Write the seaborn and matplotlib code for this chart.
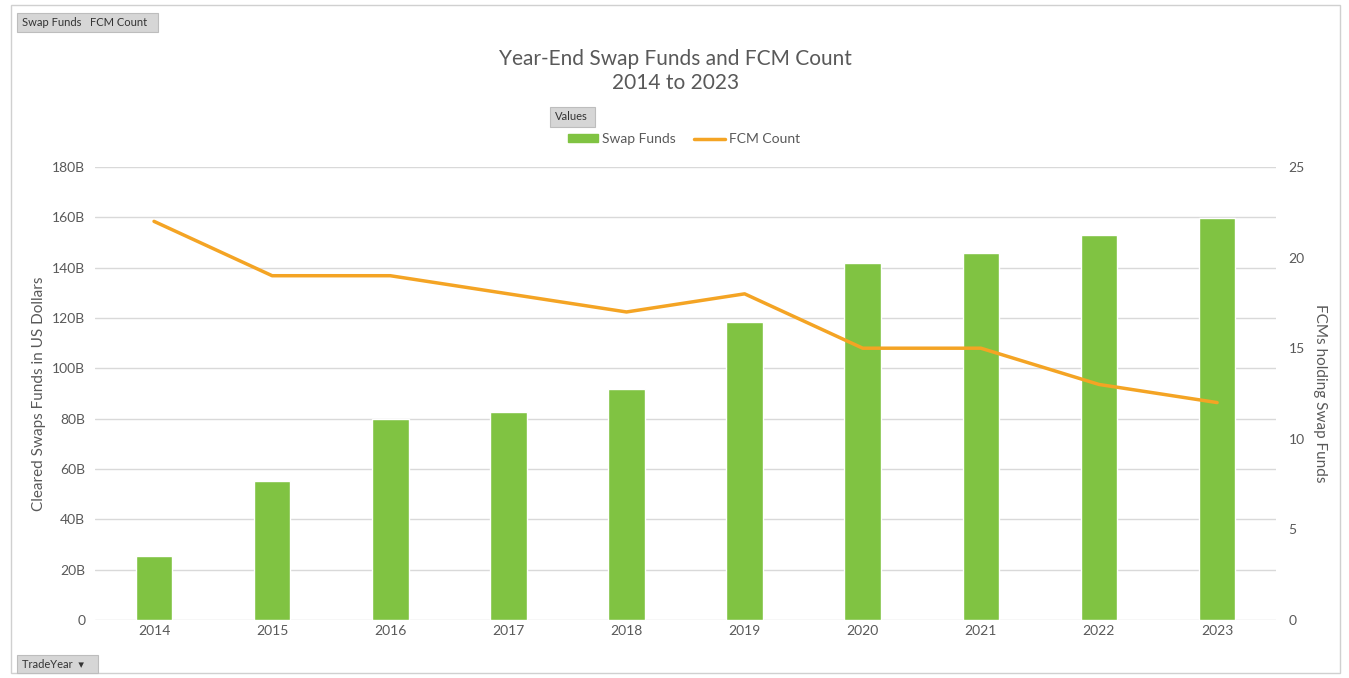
import pandas as pd
import seaborn as sns
import matplotlib.pyplot as plt
from matplotlib.patches import FancyBboxPatch, Rectangle

years = ['2014', '2015', '2016', '2017', '2018', '2019', '2020', '2021', '2022', '2023']
swap_funds_b = [25.4, 55.2, 79.9, 82.6, 91.8, 118.4, 141.8, 145.8, 153.0, 159.7]
fcm_count = [22, 19, 19, 18, 17, 18, 15, 15, 13, 12]

green = '#80C342'
orange = '#F4A424'
text_gray = '#595959'

sns.set_theme(style='white')
plt.rcParams['font.family'] = ['Lato', 'DejaVu Sans']

df = pd.DataFrame({'TradeYear': years, 'Swap Funds': swap_funds_b, 'FCM Count': fcm_count})

fig = plt.figure(figsize=(13.49, 6.78), dpi=100)
ax = fig.add_axes([0.0704, 0.0855, 0.8756, 0.6682])

sns.barplot(data=df, x='TradeYear', y='Swap Funds', color=green, width=0.31,
            saturation=1, ax=ax, zorder=2)
ax.set_ylim(0, 180)
ax.set_xlim(-0.5, 9.5)
ax.set_yticks(range(0, 181, 20))
ax.set_yticklabels(['0'] + [f'{v}B' for v in range(20, 181, 20)])
ax.yaxis.grid(True, color='#D9D9D9', linewidth=1, zorder=0)
ax.set_axisbelow(True)
ax.set_xlabel('')
ax.set_ylabel('Cleared Swaps Funds in US Dollars', color=text_gray, fontsize=11, labelpad=4)
ax.tick_params(axis='both', colors=text_gray, labelsize=10, length=0)
ax.tick_params(axis='y', pad=7)
for s in ax.spines.values():
    s.set_visible(False)

ax2 = ax.twinx()
sns.lineplot(x=list(range(len(years))), y=fcm_count, color=orange, linewidth=2.5, ax=ax2)
ax2.set_ylim(0, 25)
ax2.set_yticks(range(0, 26, 5))
ax2.set_ylabel('FCMs holding Swap Funds', color=text_gray, fontsize=11, rotation=270, labelpad=16)
ax2.tick_params(axis='y', colors=text_gray, labelsize=10, length=0, pad=9)
for s in ax2.spines.values():
    s.set_visible(False)

# title
fig.text(0.501, 0.913, 'Year-End Swap Funds and FCM Count', ha='center', va='center',
         fontsize=15, color=text_gray)
fig.text(0.501, 0.877, '2014 to 2023', ha='center', va='center', fontsize=15, color=text_gray)

# legend
handles = [Rectangle((0, 0), 1, 1, color=green),
           plt.Line2D([0], [0], color=orange, linewidth=2.5)]
fig.legend(handles, ['Swap Funds', 'FCM Count'], loc='center', bbox_to_anchor=(0.507, 0.795),
           ncol=2, frameon=False, fontsize=10, labelcolor=text_gray, handlelength=2.2,
           handleheight=0.5, columnspacing=1.3, handletextpad=0.3)

# outer border
fig.patches.append(Rectangle((0.008, 0.008), 0.985, 0.985, transform=fig.transFigure,
                             fill=False, edgecolor='#D0D0D0', linewidth=1))


def button(x, y, w, h, label):
    fig.patches.append(FancyBboxPatch((x / 1349, 1 - (y + h) / 678), w / 1349, h / 678,
                                      boxstyle='square,pad=0', transform=fig.transFigure,
                                      facecolor='#D6D6D6', edgecolor='#BDBDBD', linewidth=0.8))
    fig.text((x + 5) / 1349, 1 - (y + h / 2) / 678, label, ha='left', va='center',
             fontsize=8, color='#333333')


button(17, 13, 141, 19, 'Swap Funds   FCM Count')
button(550, 107, 45, 20, 'Values')
button(17, 655, 81, 18, 'TradeYear  \u25be')

fig.savefig('out.png', dpi=100)
